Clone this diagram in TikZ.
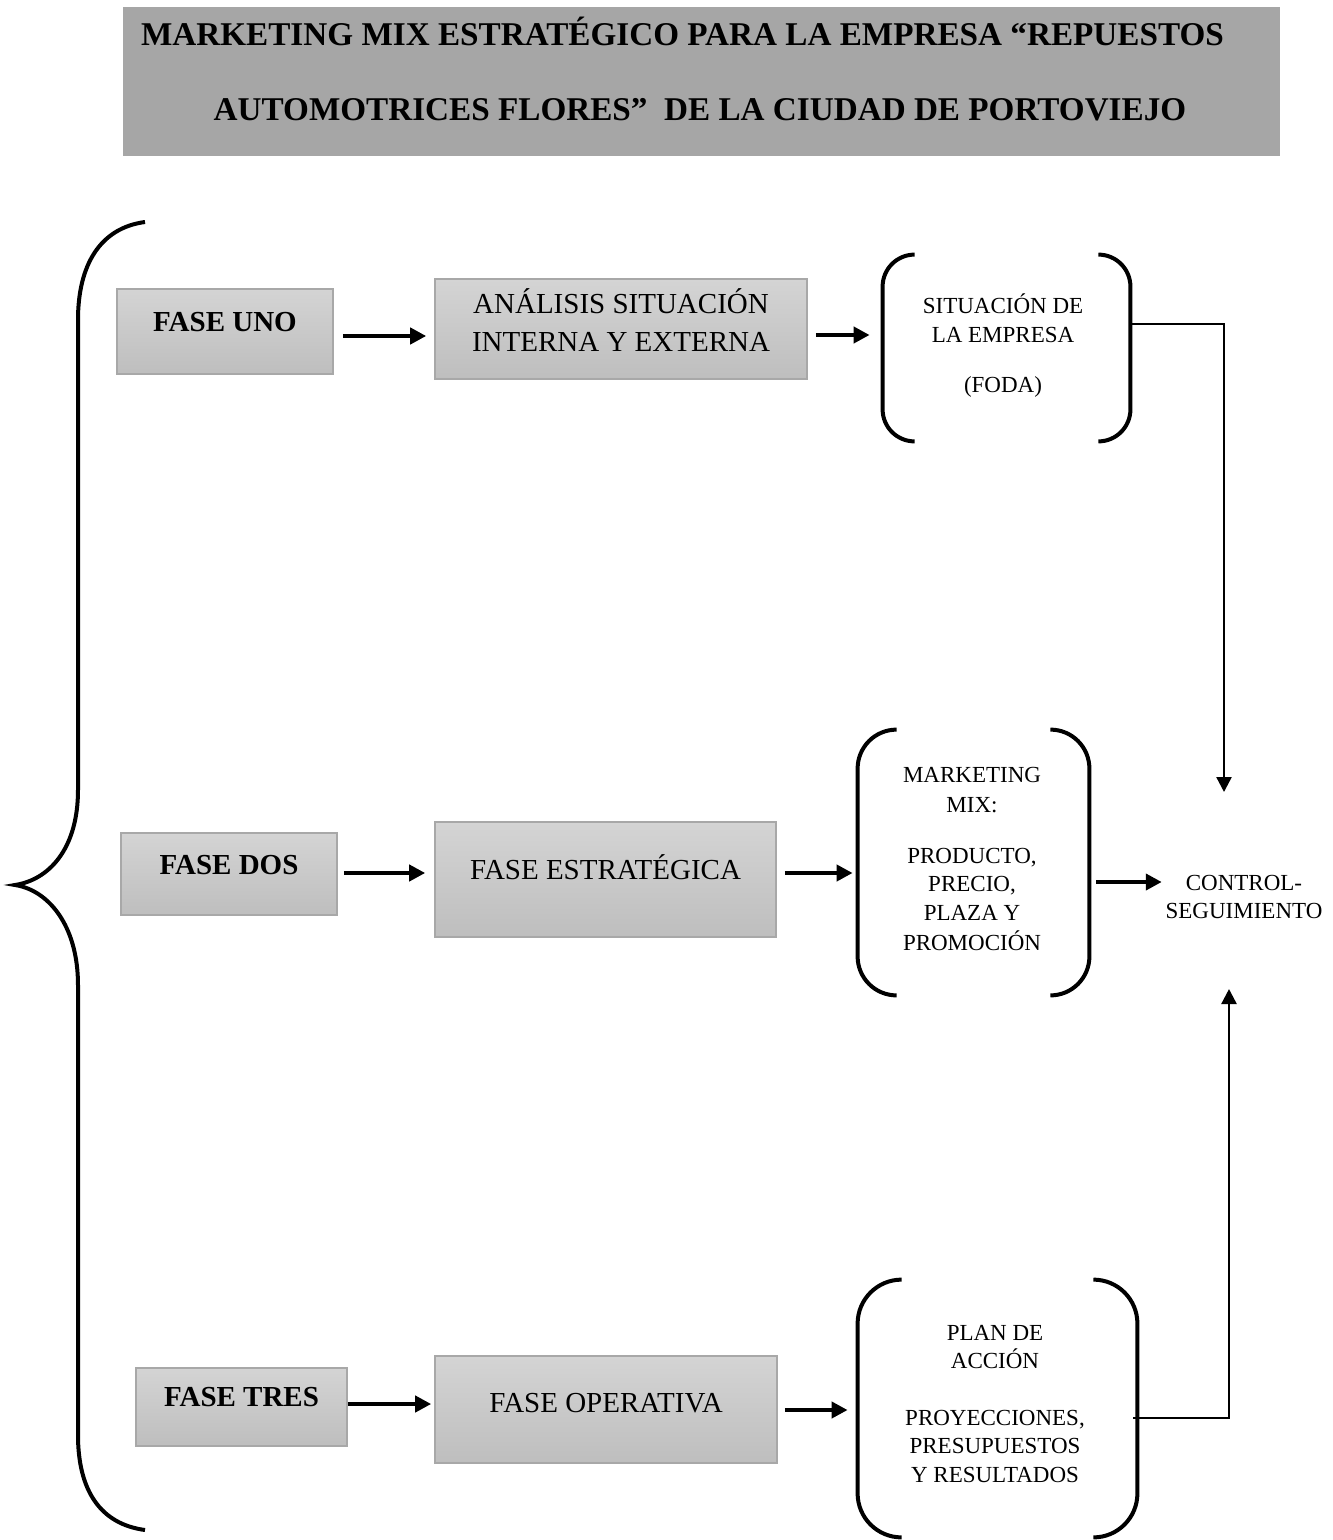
\documentclass[tikz,border=0pt]{standalone}
\usepackage{fontspec}
\setmainfont{Liberation Serif}
\usetikzlibrary{arrows.meta,calc}
\definecolor{titlegray}{HTML}{A6A6A6}
\definecolor{boxtop}{HTML}{D4D4D4}
\definecolor{boxbot}{HTML}{BEBEBE}
\definecolor{boxline}{HTML}{A8A8A8}
\tikzset{
  graybox/.style={rectangle, draw=boxline, line width=0.8pt, top color=boxtop, bottom color=boxbot, inner sep=0pt},
  area/.style={rectangle, draw=none, inner sep=0pt},
  thk/.style={line width=2pt, -{Triangle[length=8pt,width=8pt]}},
  thn/.style={line width=1.2pt, -{Triangle[length=7.5pt,width=7.5pt]}},
  brk/.style={line width=2pt, rounded corners=#1},
  bigtxt/.style={font=\fontsize{14.5}{18}\selectfont, anchor=base, inner sep=0pt},
  bigbold/.style={font=\fontsize{14.5}{18}\selectfont\bfseries, anchor=base, inner sep=0pt},
  smalltxt/.style={font=\fontsize{11.5}{14}\selectfont, anchor=base, inner sep=0pt},
  titletxt/.style={font=\fontsize{16.6}{19}\selectfont\bfseries, anchor=base, inner sep=0pt}
}
\begin{document}
\begin{tikzpicture}[x=0.5pt,y=-0.5pt]
\useasboundingbox (0,0) rectangle (1332,1540);

% title
\node[rectangle, fill=titlegray, inner sep=0pt, minimum width=578.5pt, minimum height=74.5pt] (title) at (701.5,81.5) {};
\node[titletxt] (t1) at (682.5,46) {MARKETING MIX ESTRATÉGICO PARA LA EMPRESA “REPUESTOS};
\node[titletxt] (t2) at (700,121) {AUTOMOTRICES FLORES”\ \ DE LA CIUDAD DE PORTOVIEJO};

% brace
\draw[line width=2pt] (145,222) .. controls (100,228) and (78,265) .. (78,320)
  -- (78,790) .. controls (78,850) and (48,880) .. (15,885)
  .. controls (48,890) and (78,925) .. (78,985)
  -- (78,1435) .. controls (78,1490) and (100,1524) .. (145,1530);

% gray boxes
\node[graybox, minimum width=108pt, minimum height=42.5pt] (fu) at (225,331.5) {};
\node[graybox, minimum width=186pt, minimum height=50pt] (an) at (621,329) {};
\node[graybox, minimum width=108pt, minimum height=41pt] (fd) at (229,874) {};
\node[graybox, minimum width=170.5pt, minimum height=57.5pt] (fe) at (605.5,879.5) {};
\node[graybox, minimum width=105.5pt, minimum height=39pt] (ft) at (241.5,1407) {};
\node[graybox, minimum width=171pt, minimum height=53.5pt] (fo) at (606,1409.5) {};

% box texts
\node[bigbold] (fut) at (225,331) {FASE UNO};
\node[bigbold] (fdt) at (229,874) {FASE DOS};
\node[bigbold] (ftt) at (241.5,1406) {FASE TRES};
\node[bigtxt] (an1) at (621,314) {ANÁLISIS SITUACIÓN};
\node[bigtxt] (an2) at (621,351) {INTERNA Y EXTERNA};
\node[bigtxt] (fet) at (605.5,879) {FASE ESTRATÉGICA};
\node[bigtxt] (fot) at (606,1412) {FASE OPERATIVA};

% bracket areas
\node[area, minimum width=123.5pt, minimum height=93pt] (sit) at (1006.5,348) {};
\node[area, minimum width=115.5pt, minimum height=132.5pt] (mkt) at (973.5,862.5) {};
\node[area, minimum width=139.5pt, minimum height=128.5pt] (pln) at (997.5,1408.5) {};

\draw[brk=16pt] ($(sit.north west)+(32,0)$) -- (sit.north west) -- (sit.south west) -- ($(sit.south west)+(32,0)$);
\draw[brk=16pt] ($(sit.north east)+(-32,0)$) -- (sit.north east) -- (sit.south east) -- ($(sit.south east)+(-32,0)$);
\draw[brk=19.5pt] ($(mkt.north west)+(39,0)$) -- (mkt.north west) -- (mkt.south west) -- ($(mkt.south west)+(39,0)$);
\draw[brk=19.5pt] ($(mkt.north east)+(-39,0)$) -- (mkt.north east) -- (mkt.south east) -- ($(mkt.south east)+(-39,0)$);
\draw[brk=22pt] ($(pln.north west)+(44,0)$) -- (pln.north west) -- (pln.south west) -- ($(pln.south west)+(44,0)$);
\draw[brk=22pt] ($(pln.north east)+(-44,0)$) -- (pln.north east) -- (pln.south east) -- ($(pln.south east)+(-44,0)$);

% bracket texts
\node[smalltxt] (s1) at (1003,314) {SITUACIÓN DE};
\node[smalltxt] (s2) at (1003,343) {LA EMPRESA};
\node[smalltxt] (s3) at (1003,393) {(FODA)};

\node[smalltxt] (m1) at (972,782) {MARKETING};
\node[smalltxt] (m2) at (972,812) {MIX:};
\node[smalltxt] (m3) at (972,863) {PRODUCTO,};
\node[smalltxt] (m4) at (972,891) {PRECIO,};
\node[smalltxt] (m5) at (972,920) {PLAZA Y};
\node[smalltxt] (m6) at (972,950) {PROMOCIÓN};

\node[smalltxt] (p1) at (995,1340) {PLAN DE};
\node[smalltxt] (p2) at (995,1368) {ACCIÓN};
\node[smalltxt] (p3) at (995,1425) {PROYECCIONES,};
\node[smalltxt] (p4) at (995,1453) {PRESUPUESTOS};
\node[smalltxt] (p5) at (995,1482) {Y RESULTADOS};

% control
\node[font=\fontsize{11.5}{14}\selectfont, align=center, inner sep=0pt] (ctl) at (1244,897) {CONTROL-\\SEGUIMIENTO};
\coordinate (ctop) at (1224,792);
\coordinate (cbot) at (1229,989);

% connectors
\draw[thk] ($(fu.east)+(9,4.5)$) -- ($(an.west)+(-8,7)$);
\draw[thk] ($(an.east)+(8,6)$) -- ($(sit.west)+(-13,-13)$);
\draw[thn] ($(sit.east)+(0,-24)$) -| (ctop);

\draw[thk] ($(fd.east)+(6,-1)$) -- ($(fe.west)+(-9,-6.5)$);
\draw[thk] ($(fe.east)+(8,-6.5)$) -- ($(mkt.west)+(-5,10.5)$);
\draw[thk] ($(mkt.east)+(7,19.5)$) -- ($(ctl.west)+(-3.5,-15)$);

\draw[thk] ($(ft.east)+(0,-3)$) -- ($(fo.west)+(-3,-5.5)$);
\draw[thk] ($(fo.east)+(7,0.5)$) -- ($(pln.west)+(-10,1.5)$);
\draw[thn] ($(pln.east)+(-4,9.5)$) -| (cbot);
\end{tikzpicture}
\end{document}
